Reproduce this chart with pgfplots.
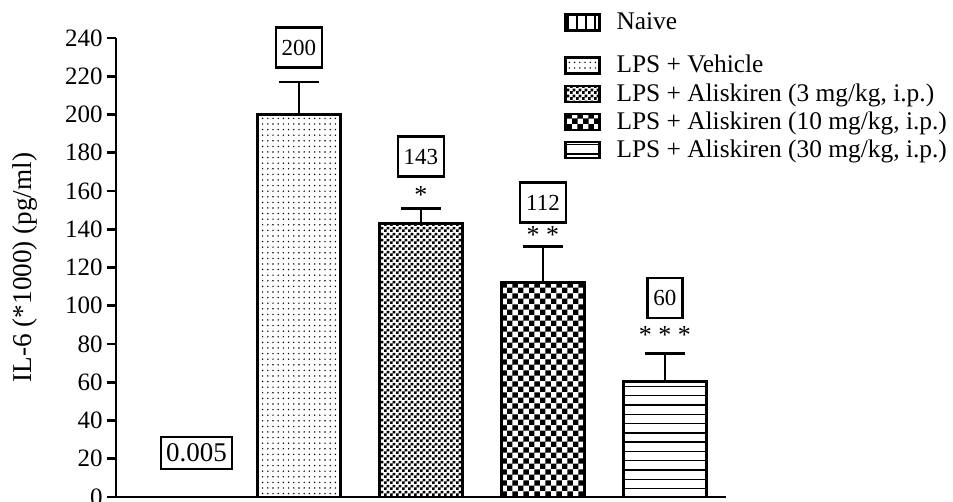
\documentclass[border=0pt]{standalone}
\usepackage{fontspec}
\setmainfont{Liberation Serif}
\usepackage{pgfplots}
\pgfplotsset{compat=1.18}
\usetikzlibrary{patterns}

\pgfdeclarepatternformonly{mydots}{\pgfqpoint{-0.5pt}{-0.5pt}}{\pgfqpoint{3.1pt}{3.3pt}}{\pgfqpoint{2.6pt}{2.8pt}}{%
  \pgfpathcircle{\pgfqpoint{1.3pt}{1.4pt}}{0.4pt}\pgfusepath{fill}}
\pgfdeclarepatternformonly{finecheck}{\pgfpointorigin}{\pgfqpoint{3pt}{3pt}}{\pgfqpoint{3pt}{3pt}}{%
  \pgfpathrectangle{\pgfpointorigin}{\pgfqpoint{1.55pt}{1.55pt}}%
  \pgfpathrectangle{\pgfqpoint{1.5pt}{1.5pt}}{\pgfqpoint{1.55pt}{1.55pt}}\pgfusepath{fill}}
\pgfdeclarepatternformonly{coarsecheck}{\pgfpointorigin}{\pgfqpoint{5.4pt}{5.4pt}}{\pgfqpoint{5.4pt}{5.4pt}}{%
  \pgfpathrectangle{\pgfpointorigin}{\pgfqpoint{2.75pt}{2.75pt}}%
  \pgfpathrectangle{\pgfqpoint{2.7pt}{2.7pt}}{\pgfqpoint{2.75pt}{2.75pt}}\pgfusepath{fill}}
\pgfdeclarepatternformonly{hlines}{\pgfqpoint{-1pt}{-1pt}}{\pgfqpoint{5pt}{5.65pt}}{\pgfqpoint{4pt}{4.65pt}}{%
  \pgfsetlinewidth{0.7pt}\pgfpathmoveto{\pgfqpoint{-0.5pt}{2pt}}\pgfpathlineto{\pgfqpoint{4.5pt}{2pt}}\pgfusepath{stroke}}
\pgfdeclarepatternformonly{vlines}{\pgfqpoint{-1pt}{-1pt}}{\pgfqpoint{5.5pt}{5.5pt}}{\pgfqpoint{4.5pt}{4.5pt}}{%
  \pgfsetlinewidth{1pt}\pgfpathmoveto{\pgfqpoint{0.3pt}{-0.5pt}}\pgfpathlineto{\pgfqpoint{0.3pt}{5pt}}\pgfusepath{stroke}}

\pgfplotsset{
  mybar/.style={ybar, bar width=41.5pt, bar shift=0pt, draw=black, line width=1.3pt,
    legend image code/.code={\draw[##1, line width=1.2pt] (0pt,-4pt) rectangle (17pt,4pt);}},
  myerr/.style={error bars/.cd, y dir=plus, y explicit,
    error bar style={line width=1.3pt, black},
    error mark options={rotate=90, line width=1.3pt, black, mark size=10pt}},
}

\begin{document}
\begin{tikzpicture}
\begin{axis}[name=ax, scale only axis, width=305pt, height=229.5pt,
  xmin=-0.5, xmax=4.5, ymin=0, ymax=240,
  axis lines*=left, axis line style={line width=1.3pt, black},
  xtick=\empty, ytick={0,20,...,240},
  tick style={line width=1.3pt, black}, ytick align=outside, major tick length=4.5pt,
  yticklabel style={font=\fontsize{12.5}{14}\selectfont, inner sep=2pt},
  /pgf/number format/assume math mode=true,
  ylabel={IL-6 (*1000) (pg/ml)},
  ylabel style={at={(axis description cs:-0.149,0.5)}, anchor=center, font=\fontsize{13.6}{15}\selectfont},
  legend style={at={(axis description cs:0.734,1.061)}, anchor=north west, draw=none, fill=none,
    font=\fontsize{12.7}{15}\selectfont, row sep=1.8pt, column sep=7pt, inner sep=0pt,
    nodes={inner sep=1pt}},
  legend cell align=left,
  clip=false,
]
\addplot[mybar, pattern=vlines] coordinates {(0,0.005)};
\addlegendentry{Naive}
\addlegendimage{empty legend}
\addlegendentry{\rule{0pt}{2.4pt}}
\addplot[mybar, pattern=mydots, myerr] coordinates {(1,200) +- (0,17)};
\addlegendentry{LPS + Vehicle}
\addplot[mybar, pattern=finecheck, myerr] coordinates {(2,143) +- (0,8)};
\addlegendentry{LPS + Aliskiren (3 mg/kg, i.p.)}
\addplot[mybar, pattern=coarsecheck, myerr] coordinates {(3,112) +- (0,19)};
\addlegendentry{LPS + Aliskiren (10 mg/kg, i.p.)}
\addplot[mybar, pattern=hlines, myerr] coordinates {(4,60.5) +- (0,14.5)};
\addlegendentry{LPS + Aliskiren (30 mg/kg, i.p.)}

\tikzset{vbox/.style={draw, line width=1.1pt, font=\fontsize{11.5}{13}\selectfont, minimum height=20pt, inner xsep=3pt, inner ysep=2pt},
  star/.style={font=\fontsize{13}{15}\selectfont, inner sep=0pt}}
\node[vbox] at (axis cs:1,235) {200};
\node[vbox] at (axis cs:2,178) {143};
\node[star] at (axis cs:2,158) {*};
\node[vbox] at (axis cs:3,154) {112};
\node[star] at (axis cs:3,137) {* *};
\node[vbox] at (axis cs:4,104) {60};
\node[star] at (axis cs:4,84.5) {* * *};
\node[draw, line width=1.1pt, font=\fontsize{13.5}{15}\selectfont, minimum height=16pt, inner xsep=2.5pt, inner ysep=1pt] at (axis cs:0.16,23) {0.005};
\end{axis}
\pgfresetboundingbox
\path ([xshift=-58pt,yshift=-2.5pt]ax.south west) rectangle ++(476.5pt,251pt);
\end{tikzpicture}
\end{document}
